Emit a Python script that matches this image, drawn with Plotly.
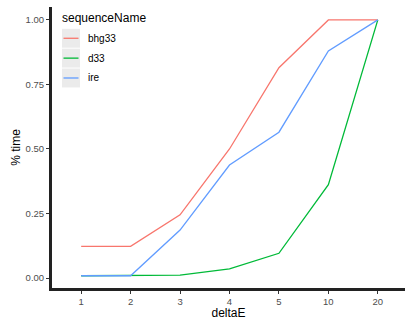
import plotly.graph_objects as go

# deltaE levels (treated as discrete categories)
delta_e = ["1", "2", "3", "4", "5", "10", "20"]

# share of time per sequence
bhg33 = [0.123, 0.123, 0.245, 0.50, 0.815, 1.0, 1.0]
d33 = [0.009, 0.009, 0.011, 0.036, 0.096, 0.362, 1.0]
ire = [0.009, 0.009, 0.186, 0.438, 0.565, 0.880, 1.0]

names = ["bhg33", "d33", "ire"]
colors = ["#F8766D", "#00BA38", "#619CFF"]
values = [bhg33, d33, ire]

FONT = "Liberation Sans, Arial, sans-serif"
W, H = 405, 320
ML, MR, MT, MB = 52, 0, 7, 30
PW, PH = W - ML - MR, H - MT - MB


def px_x(x):
    return (x - ML) / PW


def px_y(y):
    return (H - MB - y) / PH


fig = go.Figure()
for name, vals, color in zip(names, values, colors):
    fig.add_trace(go.Scatter(
        x=delta_e, y=vals, name=name, mode="lines",
        line=dict(color=color, width=1.3), showlegend=False,
    ))

# legend drawn inside the panel, ggplot style: grey key boxes with short lines
annotations = [dict(
    text="sequenceName", xref="paper", yref="paper",
    x=px_x(60), y=px_y(18), xanchor="left", yanchor="middle",
    showarrow=False, font=dict(size=12, color="#000000"),
)]
shapes = []
for i, (name, color) in enumerate(zip(names, colors)):
    top = 29 + 20 * i
    mid = top + 9.5
    shapes.append(dict(
        type="rect", xref="paper", yref="paper", layer="below",
        x0=px_x(62), x1=px_x(80), y0=px_y(top), y1=px_y(top + 19),
        fillcolor="#EBEBEB", line=dict(width=0),
    ))
    shapes.append(dict(
        type="line", xref="paper", yref="paper",
        x0=px_x(63.5), x1=px_x(78.5), y0=px_y(mid), y1=px_y(mid),
        line=dict(color=color, width=1.3),
    ))
    annotations.append(dict(
        text=name, xref="paper", yref="paper",
        x=px_x(86), y=px_y(mid), xanchor="left", yanchor="middle",
        showarrow=False, font=dict(size=10, color="#000000"),
    ))

fig.update_layout(
    width=W, height=H,
    margin=dict(l=ML, r=MR, t=MT, b=MB),
    paper_bgcolor="white", plot_bgcolor="white",
    font=dict(family=FONT, color="#000000"),
    showlegend=False,
    shapes=shapes, annotations=annotations,
    xaxis=dict(
        type="category", range=[-0.59, 6.55],
        showgrid=False, zeroline=False,
        showline=True, linecolor="#222222", linewidth=3,
        ticks="outside", ticklen=3, tickcolor="#333333", tickwidth=1,
        tickfont=dict(size=9.5, color="#4D4D4D"),
        title=dict(text="deltaE", font=dict(size=12, color="#000000"), standoff=4),
    ),
    yaxis=dict(
        range=[-0.0385, 1.05],
        tickvals=[0, 0.25, 0.5, 0.75, 1.0],
        ticktext=["0.00", "0.25", "0.50", "0.75", "1.00"],
        showgrid=False, zeroline=False,
        showline=True, linecolor="#222222", linewidth=3,
        ticks="outside", ticklen=3, tickcolor="#333333", tickwidth=1,
        tickfont=dict(size=9.5, color="#4D4D4D"),
        title=dict(text="% time", font=dict(size=12, color="#000000"), standoff=3),
    ),
)

fig.write_html("out.html")
